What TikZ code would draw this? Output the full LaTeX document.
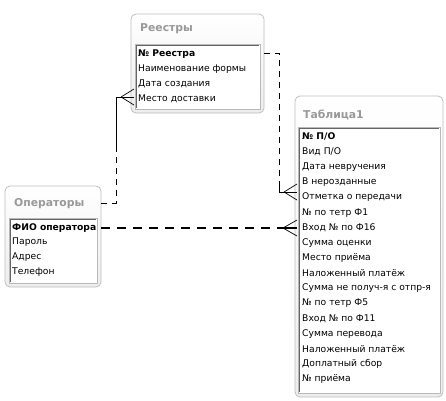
\documentclass[tikz,border=0pt]{standalone}
\usepackage{fontspec}
\setmainfont{DejaVu Sans}
\usetikzlibrary{calc}
\begin{document}
\begin{tikzpicture}[x=1pt,y=-1pt,
  outerbox/.style={draw=gray!50, line width=0.8pt, rounded corners=5pt, top color=white, bottom color=gray!14},
  innerbox/.style={draw=gray!55, fill=white, line width=0.6pt},
  insetedge/.style={draw=gray!80!black, line width=1pt},
  ttl/.style={anchor=west, inner sep=0pt, font=\fontsize{10.8}{12}\selectfont\bfseries, text=gray!80},
  rowtxt/.style={anchor=west, inner sep=0pt, font=\fontsize{9.2}{11}\selectfont},
  keytxt/.style={rowtxt, font=\fontsize{9.2}{11}\selectfont\bfseries},
  rel/.style={line width=0.7pt},
  relthick/.style={line width=1.6pt},
  dashrel/.style={dash pattern=on 6pt off 5pt}]
\useasboundingbox (0,0) rectangle (446,400);
\fill[white] (0,0) rectangle (446,400);

% ---------- Реестры ----------
\path[outerbox] (131,14) rectangle (264,113);
\node[ttl] (rtitle) at (140,29) {Реестры};
\path[innerbox] (135,44) rectangle (260,109);
\draw[insetedge] (136.5,108) -- (136.5,45.5) -- (259,45.5);
\node[draw=none, minimum width=125pt, minimum height=65pt, inner sep=0, anchor=north west] (reestr) at (135,44) {};
\node[keytxt] (r1) at (138,54) {№ Реестра};
\node[rowtxt] (r2) at (138,69) {Наименование формы};
\node[rowtxt] (r3) at (138,84) {Дата создания};
\node[rowtxt] (r4) at (138,99) {Место доставки};

% ---------- Операторы ----------
\path[outerbox] (5,186) rectangle (101,287);
\node[ttl] (otitle) at (14,204) {Операторы};
\path[innerbox] (9,218) rectangle (97,283);
\draw[insetedge] (10.5,282) -- (10.5,219.5) -- (96,219.5);
\node[draw=none, minimum width=92pt, minimum height=101pt, inner sep=0, anchor=north west] (oper) at (5,186) {};
\node[keytxt] (o1) at (12,228) {ФИО оператора};
\node[rowtxt] (o2) at (12,242.5) {Пароль};
\node[rowtxt] (o3) at (12,257.5) {Адрес};
\node[rowtxt] (o4) at (12,272) {Телефон};

% ---------- Таблица1 ----------
\path[outerbox] (295,96) rectangle (443,397);
\node[ttl] (ttitle) at (303,115) {Таблица1};
\path[innerbox] (298,127) rectangle (440,393);
\draw[insetedge] (299.5,392) -- (299.5,128.5) -- (439,128.5);
\node[draw=none, minimum width=142pt, minimum height=266pt, inner sep=0, anchor=north west] (tab) at (298,127) {};
\node[keytxt] (t1) at (302,137) {№ П/О};
\foreach [count=\i from 2] \t in {Вид П/О,Дата невручения,В нерозданные,Отметка о передачи,№ по тетр  Ф1,Вход № по Ф16,Сумма оценки,Место приёма,Наложенный платёж,Сумма не получ-я с отпр-я,№ по тетр Ф5,Вход № по Ф11,Сумма перевода,Наложенный платёж,Доплатный сбор,№ приёма}
  \node[rowtxt] (t\i) at (302,{137+(\i-1)*15.12}) {\t};

% ---------- connectors ----------
% Реестры -> Таблица1
\coordinate (a0) at (264,53);
\coordinate (a1) at (279,53);
\coordinate (a2) at (279,192);
\coordinate (a3) at (297,192);
\coordinate (af) at (284,192);
\draw[rel, dashrel] (a0) -- (a1) -- (a2);
\draw[rel] ($(a2)+(0,-10)$) -- (a2) -- (a3);
\draw[rel] (af) -- (297,184) (af) -- (297,200);

% Операторы -> Таблица1
\coordinate (b0) at (101,228);
\coordinate (b1) at (280,228);
\coordinate (b2) at (297,228);
\coordinate (bf) at (283,228);
\draw[relthick, dash pattern=on 9pt off 7pt] (b0) -- (b1);
\draw[relthick] (b1) -- (b2);
\draw[rel] (bf) -- (297,220) (bf) -- (297,236);

% Операторы -> Реестры
\coordinate (c0) at (101,203);
\coordinate (c1) at (116,203);
\coordinate (c2) at (116,150);
\coordinate (c3) at (116,97);
\coordinate (c4) at (134,97);
\coordinate (cf) at (121,97);
\draw[rel, dashrel] (c0) -- (c1) -- (c2);
\draw[rel] (c2) -- (c3) -- (c4);
\draw[rel] (cf) -- (134,89) (cf) -- (134,105);
\end{tikzpicture}
\end{document}
